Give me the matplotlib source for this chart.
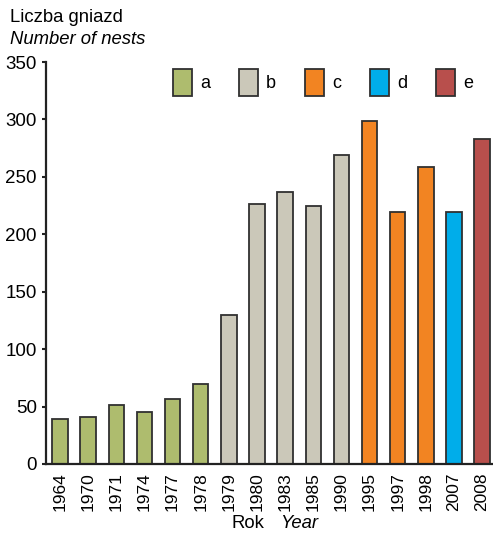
import matplotlib
matplotlib.use("Agg")
import matplotlib.pyplot as plt
from matplotlib.patches import Patch

plt.rcParams['font.family'] = ['Liberation Sans', 'DejaVu Sans']

years = ["1964", "1970", "1971", "1974", "1977", "1978", "1979", "1980",
         "1983", "1985", "1990", "1995", "1997", "1998", "2007", "2008"]
nests = [39, 41, 51, 45, 57, 70, 130, 226, 237, 225, 269, 299, 219, 259, 219, 283]
groups = ["a"] * 6 + ["b"] * 5 + ["c"] * 3 + ["d"] + ["e"]

group_names = ["a", "b", "c", "d", "e"]
group_colors = {"a": "#aebc6e", "b": "#cbc8b9", "c": "#f28422",
                "d": "#00adea", "e": "#b84f4c"}
edge = "#303030"

fig = plt.figure(figsize=(4.93, 5.33), dpi=100)
ax = fig.add_axes([46 / 493, 69 / 533, 447 / 493, 402 / 533])

x = range(len(years))
ax.bar(x, nests, width=0.55, color=[group_colors[g] for g in groups],
       edgecolor=edge, linewidth=1.3, zorder=2)

ax.set_xlim(-0.5, 15.39)
ax.set_ylim(0, 350)
ax.set_yticks(range(0, 351, 50))
ax.set_xticks(list(x))
ax.set_xticklabels(years, rotation=90, fontsize=12.5)
ax.tick_params(axis='x', length=0, pad=6)
ax.tick_params(axis='y', length=3, width=1.5, pad=3.5, labelsize=13.5,
               color="#222222")

for s in ["top", "right"]:
    ax.spines[s].set_visible(False)
for s in ["left", "bottom"]:
    ax.spines[s].set_linewidth(1.6)
    ax.spines[s].set_color("#222222")

handles = [Patch(facecolor=group_colors[g], edgecolor=edge, linewidth=1.3)
           for g in group_names]
fig.legend(handles, group_names, loc='upper left',
           bbox_to_anchor=(173 / 493, 1 - 69 / 533), ncol=5, frameon=False,
           fontsize=13, handlelength=1.05, handleheight=1.95,
           handletextpad=0.45, columnspacing=1.6, borderpad=0,
           borderaxespad=0)

fig.text(10 / 493, 1 - 17 / 533, "Liczba gniazd", fontsize=13.3, va='center')
fig.text(10 / 493, 1 - 39 / 533, "Number of nests", fontsize=13.3,
         style='italic', va='center')

fig.text(264 / 493, 1 - 523 / 533, "Rok", fontsize=13.3, ha='right', va='center')
fig.text(280 / 493, 1 - 523 / 533, "Year", fontsize=13.3, style='italic',
         ha='left', va='center')

fig.savefig("out.png", dpi=100)
